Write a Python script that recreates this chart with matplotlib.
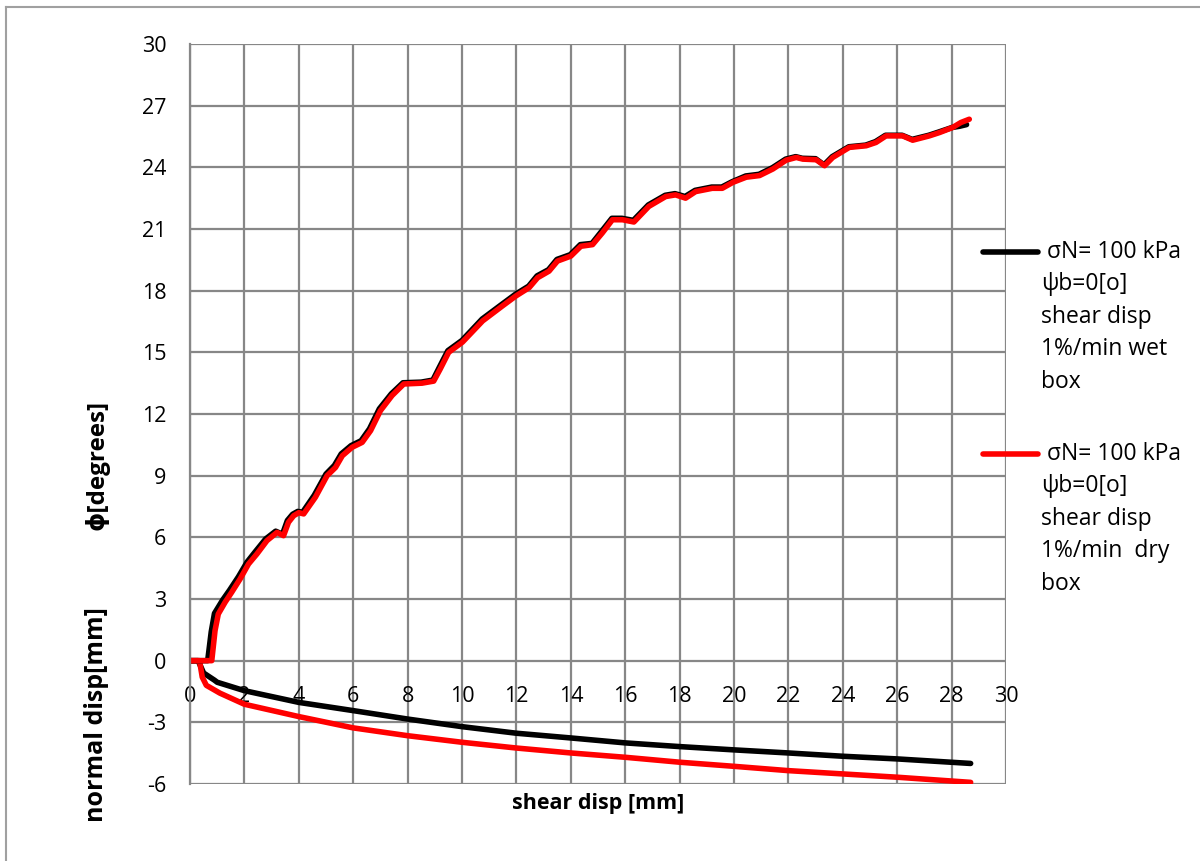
import matplotlib
matplotlib.use("Agg")
import matplotlib.pyplot as plt
from matplotlib.lines import Line2D

plt.rcParams['font.family'] = ['Open Sans', 'DejaVu Sans']
plt.rcParams['axes.unicode_minus'] = False

# friction angle phi [degrees] vs shear disp [mm]
phi_wet_x = [0, 0.65, 0.78, 0.9, 1.2, 1.45, 1.78, 2.1, 2.4, 2.78, 3.15, 3.4, 3.58, 3.77,
             3.96, 4.14, 4.57, 5.0, 5.31, 5.56, 5.92, 6.29, 6.6, 6.96, 7.4, 7.83, 8.5,
             8.93, 9.17, 9.48, 10.0, 10.74, 11.47, 11.96, 12.45, 12.76, 13.18, 13.49,
             13.98, 14.35, 14.78, 15.14, 15.51, 15.88, 16.3, 16.85, 17.47, 17.83, 18.2,
             18.57, 19.18, 19.55, 19.93, 20.43, 20.92, 21.41, 21.9, 22.27, 22.51, 23.0,
             23.31, 23.61, 24.22, 24.84, 25.2, 25.57, 26.18, 26.55, 27.16, 27.53, 28.02,
             28.3, 28.55]
phi_wet = [0, 0, 1.4, 2.3, 2.95, 3.42, 4.08, 4.8, 5.3, 5.92, 6.3, 6.15, 6.82, 7.12,
           7.26, 7.22, 8.05, 9.08, 9.5, 10.06, 10.46, 10.7, 11.28, 12.25, 12.98, 13.52,
           13.55, 13.65, 14.28, 15.08, 15.58, 16.62, 17.34, 17.82, 18.22, 18.72, 19.02,
           19.52, 19.75, 20.24, 20.3, 20.9, 21.52, 21.52, 21.42, 22.17, 22.64, 22.72,
           22.58, 22.88, 23.04, 23.04, 23.3, 23.58, 23.66, 23.98, 24.4, 24.52, 24.44,
           24.42, 24.12, 24.52, 25.0, 25.08, 25.25, 25.56, 25.56, 25.36, 25.56, 25.72,
           25.94, 26.0, 26.08]

phi_dry_x = [0, 0.8, 0.92, 1.04, 1.29, 1.53, 1.84, 2.15, 2.46, 2.83, 3.2, 3.44, 3.62,
             3.81, 4.0, 4.18, 4.61, 5.04, 5.35, 5.6, 5.96, 6.33, 6.64, 7.0, 7.43, 7.86,
             8.53, 8.96, 9.2, 9.51, 10.02, 10.76, 11.49, 11.98, 12.47, 12.78, 13.2, 13.51,
             14.0, 14.37, 14.8, 15.16, 15.53, 15.9, 16.32, 16.87, 17.49, 17.85, 18.22,
             18.59, 19.2, 19.57, 19.96, 20.45, 20.94, 21.43, 21.92, 22.29, 22.53, 23.02,
             23.33, 23.63, 24.24, 24.86, 25.22, 25.59, 26.2, 26.57, 27.18, 27.55, 28.04,
             28.34, 28.65]
phi_dry = [0, 0, 1.46, 2.27, 2.84, 3.32, 3.97, 4.7, 5.19, 5.84, 6.24, 6.08, 6.73, 7.05,
           7.2, 7.14, 7.95, 9.0, 9.4, 9.97, 10.38, 10.62, 11.19, 12.16, 12.9, 13.46, 13.5,
           13.6, 14.19, 15.0, 15.5, 16.53, 17.26, 17.74, 18.15, 18.63, 18.95, 19.44,
           19.68, 20.16, 20.24, 20.81, 21.45, 21.45, 21.34, 22.1, 22.58, 22.66, 22.5,
           22.82, 22.98, 22.98, 23.27, 23.52, 23.6, 23.92, 24.35, 24.48, 24.4, 24.37,
           24.08, 24.48, 24.97, 25.05, 25.21, 25.53, 25.53, 25.32, 25.53, 25.69, 25.94,
           26.18, 26.34]

# normal disp [mm] vs shear disp [mm]
nd_x_wet = [0, 0.3, 0.5, 0.9, 1.0, 2, 4, 6, 8, 10, 12, 14, 16, 18, 20, 22, 24, 26, 28.7]
nd_wet = [0, 0, -0.6, -0.95, -1.05, -1.46, -2.03, -2.43, -2.84, -3.21, -3.53, -3.76,
          -4.0, -4.18, -4.34, -4.49, -4.65, -4.78, -5.0]
nd_x_dry = [0, 0.35, 0.45, 0.6, 1.1, 2, 4, 6, 8, 10, 12, 14, 16, 18, 20, 22, 24, 26, 28.7]
nd_dry = [0, 0, -0.8, -1.2, -1.58, -2.12, -2.72, -3.27, -3.65, -3.97, -4.25, -4.49,
          -4.7, -4.94, -5.14, -5.35, -5.51, -5.67, -5.92]

x_ticks = list(range(0, 31, 2))
y_ticks = list(range(-6, 31, 3))

legend_txt = [" σN= 100 kPa\nψb=0[o]\nshear disp\n1%/min wet\nbox",
              " σN= 100 kPa\nψb=0[o]\nshear disp\n1%/min  dry\nbox"]

grid_col = '#878787'
W, H = 1200, 861
fig = plt.figure(figsize=(12, 8.61), dpi=100)
ax = fig.add_axes([190 / W, 1 - 784 / H, 816 / W, 740 / H])

ax.plot(nd_x_wet, nd_wet, color='black', lw=4, solid_capstyle='round')
ax.plot(nd_x_dry, nd_dry, color='#ff0000', lw=4, solid_capstyle='round')
ax.plot(phi_wet_x, phi_wet, color='black', lw=4, solid_capstyle='round')
ax.plot(phi_dry_x, phi_dry, color='#ff0000', lw=4, solid_capstyle='round')

ax.set_xlim(0, 30)
ax.set_ylim(-6, 30)
ax.set_xticks(x_ticks)
ax.set_yticks(y_ticks)
ax.grid(True, color=grid_col, lw=1.6)
ax.set_axisbelow(True)

for s in ['top', 'right']:
    ax.spines[s].set_visible(False)
ax.spines['left'].set_color(grid_col)
ax.spines['left'].set_linewidth(1.6)
ax.spines['bottom'].set_position(('data', 0))
ax.spines['bottom'].set_visible(False)
ax.tick_params(length=0, labelsize=15.5, colors='black')
ax.tick_params(axis='x', pad=18)
ax.tick_params(axis='y', pad=17)

fig.text(97 / W, 1 - 465 / H, 'ϕ[degrees]', rotation=90, ha='center', va='center',
         fontsize=17.5, fontweight='bold')
fig.text(97 / W, 1 - 715 / H, 'normal disp[mm]', rotation=90, ha='center', va='center',
         fontsize=18, fontweight='bold')
fig.text(598 / W, 1 - 803 / H, 'shear disp [mm]', ha='center', va='center',
         fontsize=15.5, fontweight='bold')

# legend, drawn by hand
for col, txt, y0 in zip(['black', '#ff0000'], legend_txt, [252, 454]):
    fig.add_artist(Line2D([983 / W, 1038 / W], [1 - y0 / H, 1 - y0 / H], color=col, lw=4,
                          solid_capstyle='round'))
    fig.text(1041 / W, 1 - (y0 - 12) / H, txt, ha='left', va='top', fontsize=16.5,
             linespacing=1.47)

# outer chart border (left and top visible)
fig.add_artist(Line2D([6 / W, 6 / W], [0, 1 - 7 / H], color='#a0a0a0', lw=1.5))
fig.add_artist(Line2D([6 / W, 1], [1 - 7 / H, 1 - 7 / H], color='#a0a0a0', lw=1.5))

fig.savefig('out.png', dpi=100)
